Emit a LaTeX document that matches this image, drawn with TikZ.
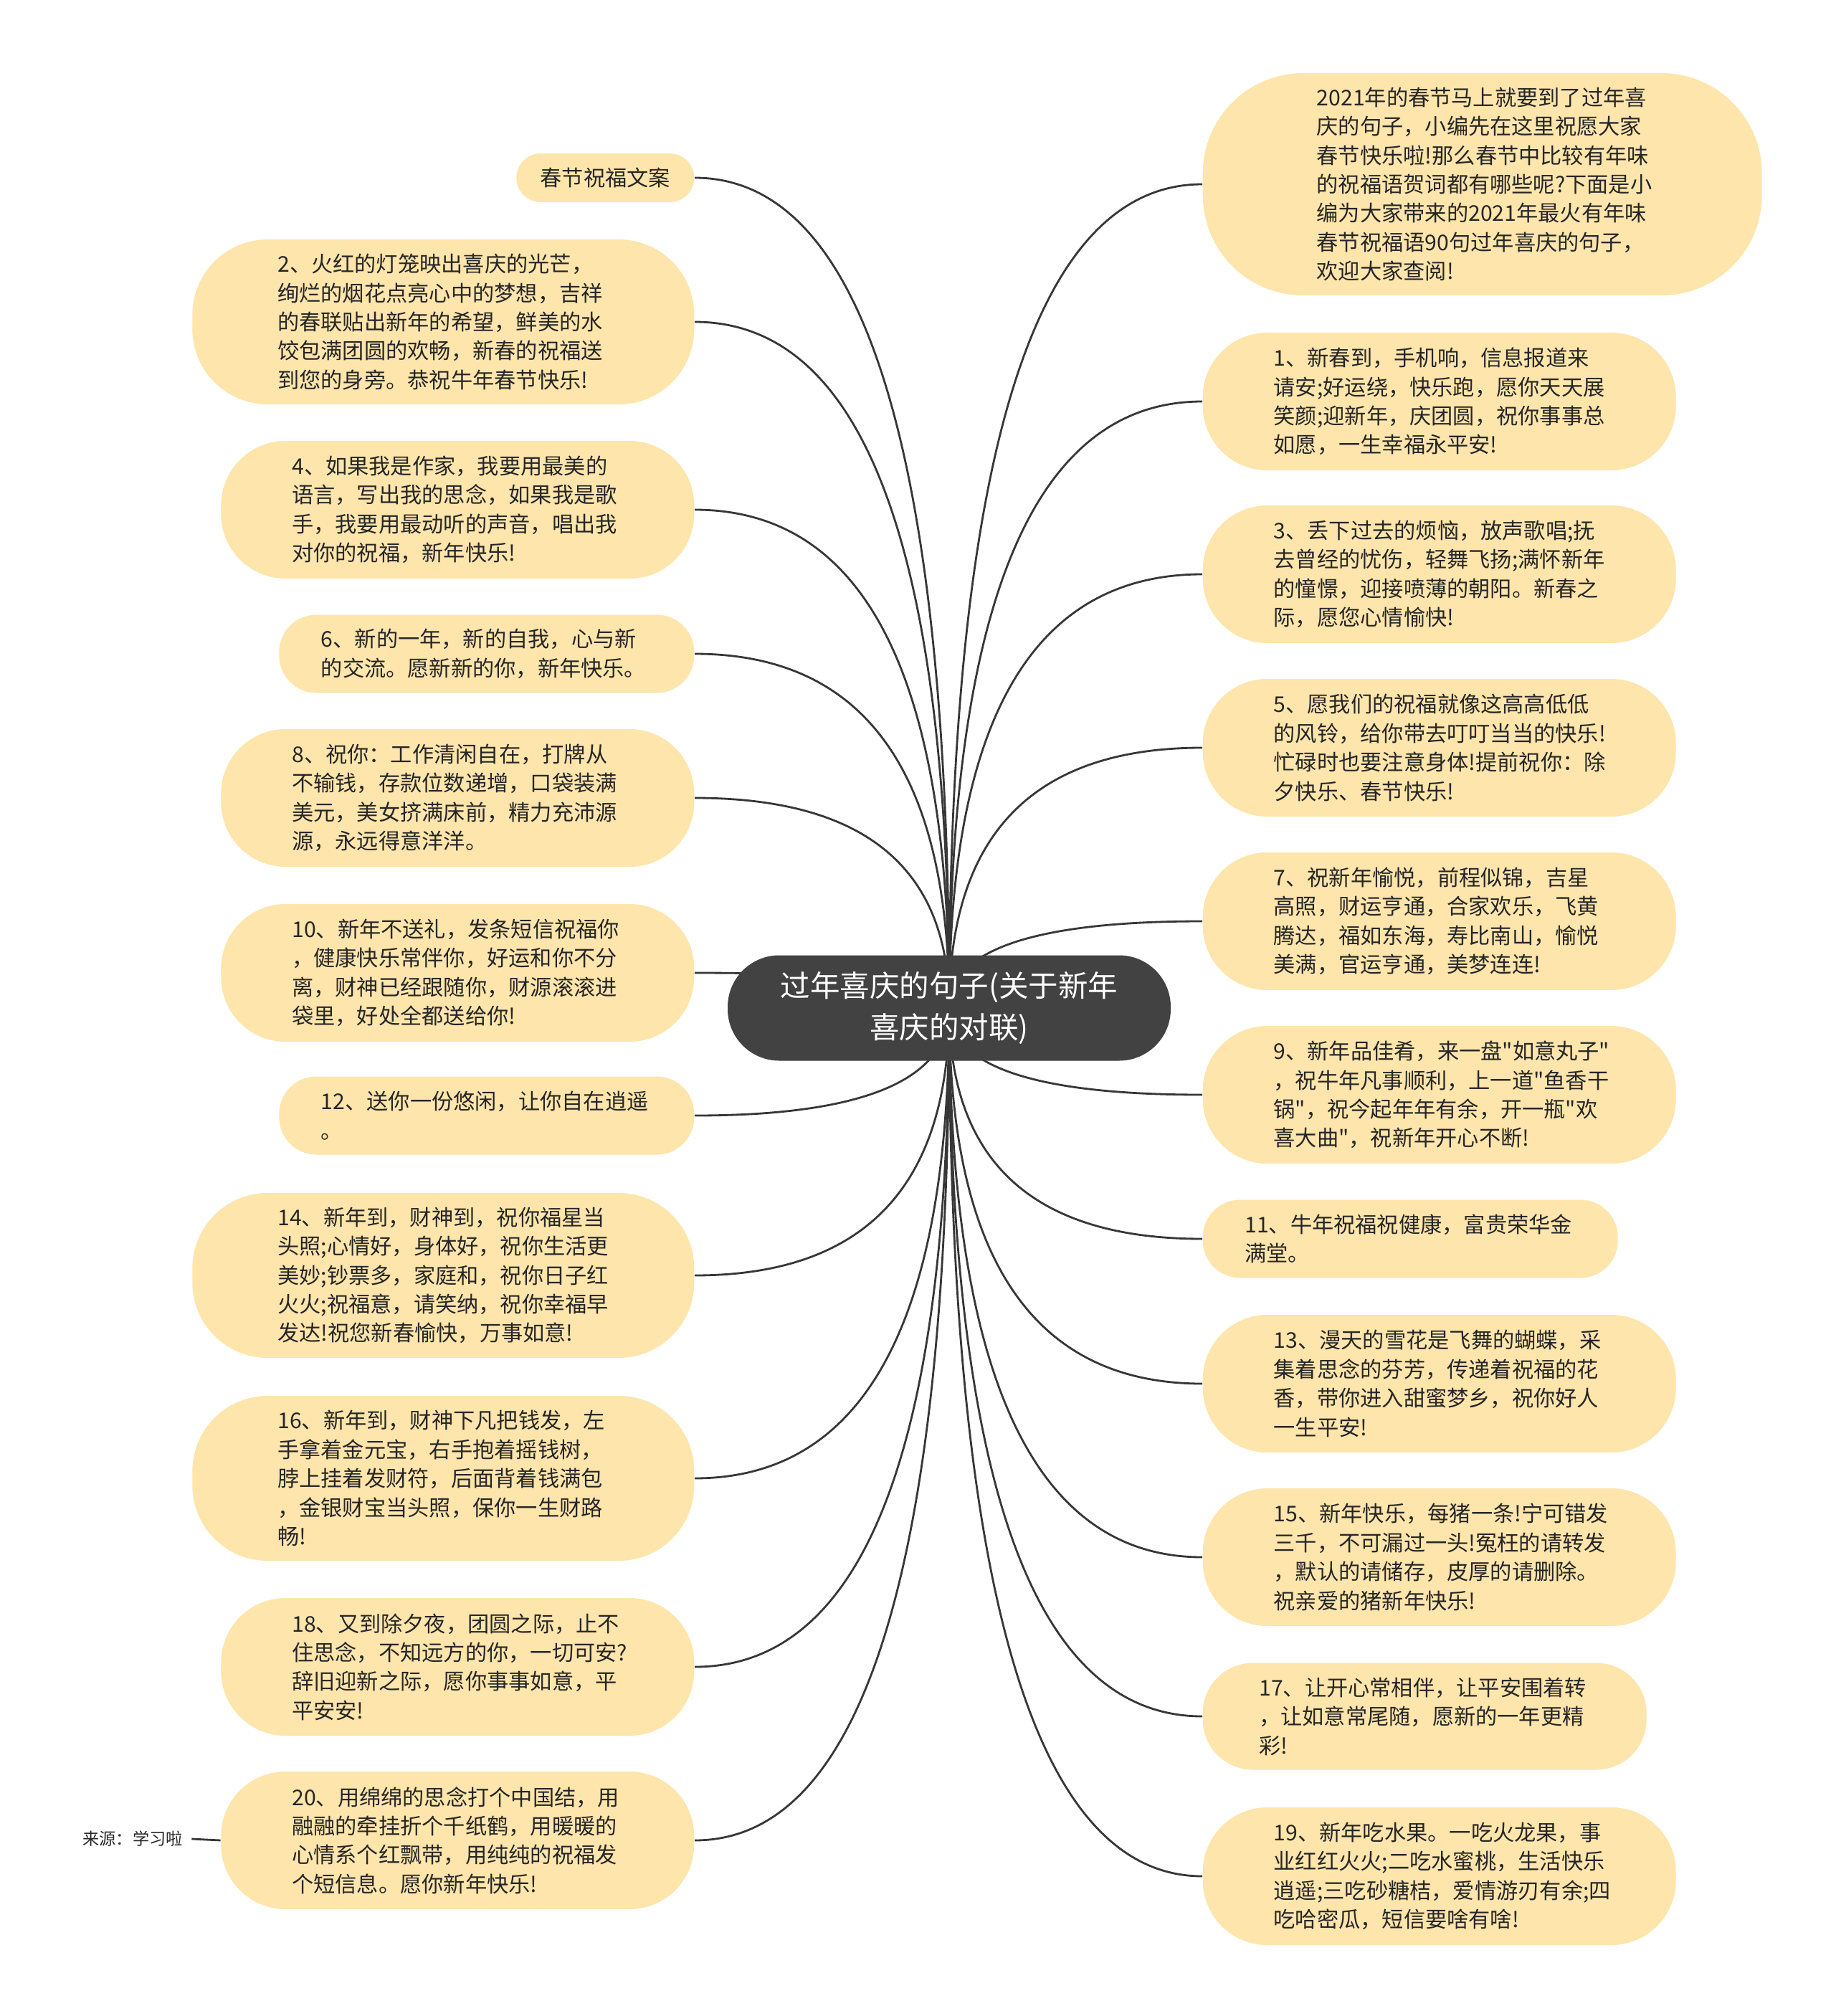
\documentclass[tikz,border=0pt]{standalone}
\usepackage{fontspec}
\newfontfamily\cjk{Noto Sans CJK SC}
\usetikzlibrary{positioning,calc,backgrounds}
\definecolor{hojaam}{RGB}{253,229,172}
\definecolor{grisosc}{RGB}{66,66,66}
\definecolor{gristr}{RGB}{55,55,55}

\begin{document}
\begin{tikzpicture}[
  font=\cjk\fontsize{8.6pt}{11.5pt}\selectfont,
  tema/.style={fill=grisosc, text=white, rounded corners=0.72cm, minimum width=6.18cm,
               minimum height=1.47cm, align=center, inner sep=0pt,
               font=\cjk\fontsize{11.8pt}{16.3pt}\selectfont},
  hoja/.style={fill=hojaam, text=black!85, inner sep=0pt},
  n1/.style={minimum width=2.48cm, minimum height=0.68cm, rounded corners=0.34cm},
  n2/.style={text width=4.62cm, align=left, minimum width=5.79cm, minimum height=1.09cm,
             rounded corners=0.52cm},
  n3/.style={text width=4.62cm, align=left, minimum width=6.19cm, minimum height=1.49cm,
             rounded corners=0.7cm},
  n4/.style={text width=4.62cm, align=left, minimum width=6.60cm, minimum height=1.92cm,
             rounded corners=0.9cm},
  n5/.style={text width=4.62cm, align=left, minimum width=7.00cm, minimum height=2.30cm,
             rounded corners=1.05cm},
  n7/.style={text width=4.62cm, align=left, minimum width=7.80cm, minimum height=3.10cm,
             rounded corners=1.4cm},
  fuente/.style={inner sep=0.12cm, text=black!85, font=\cjk\fontsize{6.6pt}{8pt}\selectfont},
  con/.style={draw=gristr, line width=0.8pt}
]
\useasboundingbox (0,0) rectangle (25.60,-28.12);

\node[tema] (c) at (13.24,-14.06) {过年喜庆的句子(关于新年\\喜庆的对联)};

% izquierda
\node[hoja, n1, anchor=east] (l1) at (9.69,-2.48) {春节祝福文案};
\node[hoja, n5, anchor=east] (l2) at (9.69,-4.49)
  {2、火红的灯笼映出喜庆的光芒，\\绚烂的烟花点亮心中的梦想，吉祥\\的春联贴出新年的希望，鲜美的水\\饺包满团圆的欢畅，新春的祝福送\\到您的身旁。恭祝牛年春节快乐!};
\node[hoja, n4, anchor=east] (l3) at (9.69,-7.11)
  {4、如果我是作家，我要用最美的\\语言，写出我的思念，如果我是歌\\手，我要用最动听的声音，唱出我\\对你的祝福，新年快乐!};
\node[hoja, n2, anchor=east] (l4) at (9.69,-9.12)
  {6、新的一年，新的自我，心与新\\的交流。愿新新的你，新年快乐。};
\node[hoja, n4, anchor=east] (l5) at (9.69,-11.13)
  {8、祝你：工作清闲自在，打牌从\\不输钱，存款位数递增，口袋装满\\美元，美女挤满床前，精力充沛源\\源，永远得意洋洋。};
\node[hoja, n4, anchor=east] (l6) at (9.69,-13.57)
  {10、新年不送礼，发条短信祝福你\\，健康快乐常伴你，好运和你不分\\离，财神已经跟随你，财源滚滚进\\袋里，好处全都送给你!};
\node[hoja, n2, anchor=east] (l7) at (9.69,-15.56)
  {12、送你一份悠闲，让你自在逍遥\\。};
\node[hoja, n5, anchor=east] (l8) at (9.69,-17.79)
  {14、新年到，财神到，祝你福星当\\头照;心情好，身体好，祝你生活更\\美妙;钞票多，家庭和，祝你日子红\\火火;祝福意，请笑纳，祝你幸福早\\发达!祝您新春愉快，万事如意!};
\node[hoja, n5, anchor=east] (l9) at (9.69,-20.62)
  {16、新年到，财神下凡把钱发，左\\手拿着金元宝，右手抱着摇钱树，\\脖上挂着发财符，后面背着钱满包\\，金银财宝当头照，保你一生财路\\畅!};
\node[hoja, n4, anchor=east] (l10) at (9.69,-23.25)
  {18、又到除夕夜，团圆之际，止不\\住思念，不知远方的你，一切可安?\\辞旧迎新之际，愿你事事如意，平\\平安安!};
\node[hoja, n4, anchor=east] (l11) at (9.69,-25.67)
  {20、用绵绵的思念打个中国结，用\\融融的牵挂折个千纸鹤，用暖暖的\\心情系个红飘带，用纯纯的祝福发\\个短信息。愿你新年快乐!};

% derecha
\node[hoja, n7, anchor=west] (r1) at (16.77,-2.57)
  {2021年的春节马上就要到了过年喜\\庆的句子，小编先在这里祝愿大家\\春节快乐啦!那么春节中比较有年味\\的祝福语贺词都有哪些呢?下面是小\\编为大家带来的2021年最火有年味\\春节祝福语90句过年喜庆的句子，\\欢迎大家查阅!};
\node[hoja, n4, anchor=west] (r2) at (16.77,-5.60)
  {1、新春到，手机响，信息报道来\\请安;好运绕，快乐跑，愿你天天展\\笑颜;迎新年，庆团圆，祝你事事总\\如愿，一生幸福永平安!};
\node[hoja, n4, anchor=west] (r3) at (16.77,-8.01)
  {3、丢下过去的烦恼，放声歌唱;抚\\去曾经的忧伤，轻舞飞扬;满怀新年\\的憧憬，迎接喷薄的朝阳。新春之\\际，愿您心情愉快!};
\node[hoja, n4, anchor=west] (r4) at (16.77,-10.43)
  {5、愿我们的祝福就像这高高低低\\的风铃，给你带去叮叮当当的快乐!\\忙碌时也要注意身体!提前祝你：除\\夕快乐、春节快乐!};
\node[hoja, n4, anchor=west] (r5) at (16.77,-12.85)
  {7、祝新年愉悦，前程似锦，吉星\\高照，财运亨通，合家欢乐，飞黄\\腾达，福如东海，寿比南山，愉悦\\美满，官运亨通，美梦连连!};
\node[hoja, n4, anchor=west] (r6) at (16.77,-15.27)
  {9、新年品佳肴，来一盘"如意丸子"\\，祝牛年凡事顺利，上一道"鱼香干\\锅"，祝今起年年有余，开一瓶"欢\\喜大曲"，祝新年开心不断!};
\node[hoja, n2, anchor=west] (r7) at (16.77,-17.28)
  {11、牛年祝福祝健康，富贵荣华金\\满堂。};
\node[hoja, n4, anchor=west] (r8) at (16.77,-19.30)
  {13、漫天的雪花是飞舞的蝴蝶，采\\集着思念的芬芳，传递着祝福的花\\香，带你进入甜蜜梦乡，祝你好人\\一生平安!};
\node[hoja, n4, anchor=west] (r9) at (16.77,-21.72)
  {15、新年快乐，每猪一条!宁可错发\\三千，不可漏过一头!冤枉的请转发\\，默认的请储存，皮厚的请删除。\\祝亲爱的猪新年快乐!};
\node[hoja, n3, anchor=west] (r10) at (16.77,-23.94)
  {17、让开心常相伴，让平安围着转\\，让如意常尾随，愿新的一年更精\\彩!};
\node[hoja, n4, anchor=west] (r11) at (16.77,-26.17)
  {19、新年吃水果。一吃火龙果，事\\业红红火火;二吃水蜜桃，生活快乐\\逍遥;三吃砂糖桔，爱情游刃有余;四\\吃哈密瓜，短信要啥有啥!};

\node[fuente] (src) at (1.85,-25.65) {来源：学习啦};

\begin{scope}[on background layer]
\foreach \i in {1,...,11} {
  \draw[con] (c.center)
    .. controls ($(c.center)!0.667!(c.center |- l\i.east)$)
            and ($(l\i.east)!0.667!(c.center |- l\i.east)$) .. (l\i.east);
  \draw[con] (c.center)
    .. controls ($(c.center)!0.667!(c.center |- r\i.west)$)
            and ($(r\i.west)!0.667!(c.center |- r\i.west)$) .. (r\i.west);
}
\end{scope}
\draw[con] (src.east) -- (l11.west);
\end{tikzpicture}
\end{document}
